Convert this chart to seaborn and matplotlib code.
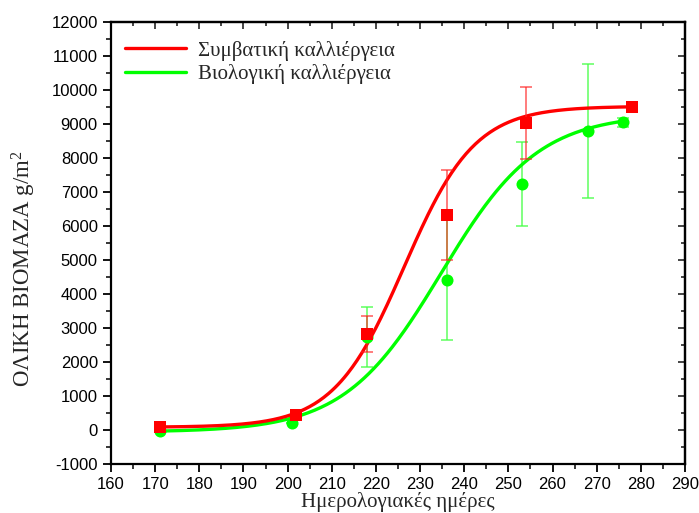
import numpy as np
import pandas as pd
import matplotlib
matplotlib.use("Agg")
import matplotlib.pyplot as plt
from matplotlib.lines import Line2D
from matplotlib.ticker import MultipleLocator
import seaborn as sns

# Measured total biomass (g/m2) per calendar day
conv_day = [171, 202, 218, 236, 254, 278]
conv_mass = [90, 440, 2830, 6320, 9040, 9500]
conv_err = [0, 0, 525, 1330, 1060, 0]

org_day = [171, 201, 218, 236, 253, 268, 276]
org_mass = [-20, 220, 2740, 4410, 7240, 8800, 9050]
org_err = [0, 0, 890, 1760, 1240, 1970, 130]

# Sigmoidal (Boltzmann) fit parameters: A1, A2, x0, dx
conv_fit = (80, 9520, 226.4, 8.0)
org_fit = (-60, 9300, 234.8, 11.0)

series_names = ["Συμβατική καλλιέργεια", "Βιολογική καλλιέργεια"]
x_label = "Ημερολογιακές ημέρες"
y_label = "ΟΛΙΚΗ ΒΙΟΜΑΖΑ g/m$^{2}$"

RED = "#ff0000"
GREEN = "#00ff00"


def boltzmann(x, a1, a2, x0, dx):
    return a2 + (a1 - a2) / (1.0 + np.exp((x - x0) / dx))


sns.set_style("ticks")
plt.rcParams["font.family"] = ["Liberation Sans", "DejaVu Sans"]
plt.rcParams["axes.unicode_minus"] = False
plt.rcParams["mathtext.fontset"] = "custom"
plt.rcParams["mathtext.rm"] = "Liberation Serif"
plt.rcParams["mathtext.it"] = "Liberation Serif:italic"

fig = plt.figure(figsize=(6.99, 5.13), dpi=100)
ax = fig.add_axes([111 / 699, 1 - 464 / 513, (685 - 111) / 699, (464 - 22) / 513])

# fitted curves
xc = np.linspace(min(conv_day), max(conv_day), 300)
xo = np.linspace(min(org_day), max(org_day), 300)
curves = pd.concat([
    pd.DataFrame({"day": xo, "mass": boltzmann(xo, *org_fit), "series": series_names[1]}),
    pd.DataFrame({"day": xc, "mass": boltzmann(xc, *conv_fit), "series": series_names[0]}),
])
sns.lineplot(data=curves, x="day", y="mass", hue="series",
             palette={series_names[0]: RED, series_names[1]: GREEN},
             lw=2.4, legend=False, ax=ax, zorder=3, sort=False)

# error bars
ax.errorbar(org_day, org_mass, yerr=org_err, fmt="none", ecolor="#44ff44",
            elinewidth=1.1, capsize=4.5, capthick=1.1, alpha=0.85, zorder=2)
ax.errorbar(conv_day, conv_mass, yerr=conv_err, fmt="none", ecolor="#ff2222",
            elinewidth=1.1, capsize=4.5, capthick=1.1, alpha=0.75, zorder=4)

# measured points
sns.scatterplot(x=org_day, y=org_mass, marker="o", s=75, color=GREEN,
                edgecolor=GREEN, linewidth=0, ax=ax, zorder=5)
sns.scatterplot(x=conv_day, y=conv_mass, marker="s", s=75, color=RED,
                edgecolor=RED, linewidth=0, ax=ax, zorder=6)

ax.set_xlim(160, 290)
ax.set_ylim(-1000, 12000)
ax.xaxis.set_major_locator(MultipleLocator(10))
ax.xaxis.set_minor_locator(MultipleLocator(5))
ax.yaxis.set_major_locator(MultipleLocator(1000))
ax.yaxis.set_minor_locator(MultipleLocator(500))
ax.tick_params(which="major", direction="out", length=6, width=1.3, labelsize=12,
               colors="black")
ax.tick_params(which="minor", direction="out", length=3.5, width=1.3)

# inward ticks on the top and right frame
top = ax.secondary_xaxis("top")
top.xaxis.set_major_locator(MultipleLocator(10))
top.xaxis.set_minor_locator(MultipleLocator(5))
top.tick_params(which="both", direction="in", labeltop=False, width=1.2)
top.tick_params(which="major", length=5)
top.tick_params(which="minor", length=3)
right = ax.secondary_yaxis("right")
right.yaxis.set_major_locator(MultipleLocator(1000))
right.yaxis.set_minor_locator(MultipleLocator(500))
right.tick_params(which="both", direction="in", labelright=False, width=1.2)
right.tick_params(which="major", length=5)
right.tick_params(which="minor", length=3)
for sp in list(ax.spines.values()) + [top.spines["top"], right.spines["right"]]:
    sp.set_linewidth(1.6)
    sp.set_color("black")

serif = ["Liberation Serif", "DejaVu Serif"]
ax.set_xlabel(x_label, fontsize=15, family=serif, labelpad=0)
ax.set_ylabel(y_label, fontsize=16.5, family=serif)
ax.yaxis.set_label_coords(-0.128, 0.443)

handles = [Line2D([0], [0], color=RED, lw=2.4), Line2D([0], [0], color=GREEN, lw=2.4)]
ax.legend(handles, series_names, loc="upper left", bbox_to_anchor=(-0.008, 1.0),
          frameon=False, handlelength=2.9, handletextpad=0.6, labelspacing=0.15,
          prop={"family": serif, "size": 15})

fig.savefig("out.png", dpi=100)
